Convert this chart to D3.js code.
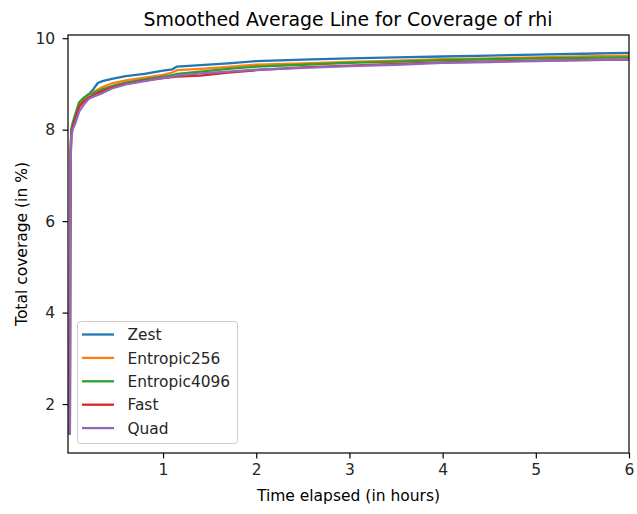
<!DOCTYPE html>
<html>
<head>
<meta charset="utf-8">
<script src="https://cdn.jsdelivr.net/npm/d3@7"></script>
<style>
  html, body { margin: 0; padding: 0; background: #fff; }
  svg { display: block; font-family: "DejaVu Sans", sans-serif; }
</style>
</head>
<body>
<svg id="chart" width="637" height="514"></svg>
<script>
const title = "Smoothed Average Line for Coverage of rhi";
const xLabel = "Time elapsed (in hours)";
const yLabel = "Total coverage (in %)";
const seriesNames = ["Zest", "Entropic256", "Entropic4096", "Fast", "Quad"];
const seriesColors = ["#1f77b4", "#ff7f0e", "#2ca02c", "#d62728", "#9467bd"];
const xTicks = [1, 2, 3, 4, 5, 6];
const yTicks = [2, 4, 6, 8, 10];

const hours = [0, 0.003, 0.008, 0.015, 0.03, 0.06, 0.1, 0.15, 0.2, 0.25, 0.3, 0.35, 0.45, 0.6, 0.8, 1.0, 1.1, 1.15, 1.4, 1.7, 2.0, 2.5, 3.0, 3.5, 4.0, 4.5, 5.0, 5.5, 6.0];
const zest     = [1.35, 5.6, 7.4, 7.95, 8.1, 8.28, 8.55, 8.68, 8.77, 8.88, 9.02, 9.06, 9.11, 9.17, 9.22, 9.29, 9.32, 9.38, 9.41, 9.45, 9.50, 9.53, 9.56, 9.58, 9.60, 9.62, 9.64, 9.66, 9.68];
const ent256   = [1.35, 5.5, 7.35, 7.95, 8.1, 8.28, 8.55, 8.68, 8.77, 8.82, 8.88, 8.93, 9.01, 9.08, 9.14, 9.20, 9.25, 9.30, 9.33, 9.37, 9.42, 9.45, 9.48, 9.51, 9.54, 9.56, 9.58, 9.60, 9.62];
const ent4096  = [1.35, 5.6, 7.45, 8.0, 8.15, 8.35, 8.6, 8.7, 8.77, 8.8, 8.84, 8.88, 8.95, 9.03, 9.10, 9.16, 9.19, 9.22, 9.27, 9.33, 9.38, 9.42, 9.46, 9.49, 9.52, 9.54, 9.56, 9.57, 9.58];
const fast     = [1.35, 5.4, 7.3, 7.9, 8.05, 8.25, 8.5, 8.62, 8.7, 8.75, 8.8, 8.84, 8.92, 9.00, 9.07, 9.13, 9.15, 9.16, 9.18, 9.25, 9.30, 9.36, 9.40, 9.44, 9.47, 9.49, 9.51, 9.52, 9.53];
const quad     = [1.35, 5.3, 7.2, 7.85, 8.0, 8.15, 8.4, 8.55, 8.67, 8.72, 8.76, 8.80, 8.90, 8.99, 9.06, 9.13, 9.16, 9.18, 9.23, 9.27, 9.31, 9.35, 9.39, 9.42, 9.46, 9.48, 9.50, 9.52, 9.53];
const seriesValues = [zest, ent256, ent4096, fast, quad];

const svg = d3.select("#chart");
const margin = {left: 68, top: 35, right: 8, bottom: 61};
const W = 637, H = 514;
const x = d3.scaleLinear().domain([-0.02, 6]).range([margin.left, W - margin.right]);
const y = d3.scaleLinear().domain([0.93, 10.07]).range([H - margin.bottom, margin.top]);

const FS = 15.5;
const TICK = 5.4;

// lines
const line = d3.line().x(d => x(d[0])).y(d => y(d[1]));
const plot = svg.append("g");
plot.append("clipPath").attr("id", "clip").append("rect")
  .attr("x", margin.left).attr("y", margin.top)
  .attr("width", W - margin.right - margin.left).attr("height", H - margin.bottom - margin.top);
const lg = plot.append("g").attr("clip-path", "url(#clip)");
seriesValues.forEach((vals, i) => {
  lg.append("path")
    .datum(hours.map((h, j) => [h, vals[j]]))
    .attr("d", line)
    .attr("fill", "none")
    .attr("stroke", seriesColors[i])
    .attr("stroke-width", 2.3)
    .attr("stroke-linejoin", "round")
    .attr("stroke-linecap", "square");
});

// axes
const xAxis = d3.axisBottom(x).tickValues(xTicks).tickSize(TICK).tickPadding(6).tickFormat(d3.format("d"));
const yAxis = d3.axisLeft(y).tickValues(yTicks).tickSize(TICK).tickPadding(7.5).tickFormat(d3.format("d"));
const gx = svg.append("g").attr("transform", `translate(0,${H - margin.bottom})`).call(xAxis);
const gy = svg.append("g").attr("transform", `translate(${margin.left},0)`).call(yAxis);
[gx, gy].forEach(g => {
  g.select(".domain").remove();
  g.selectAll(".tick line").attr("stroke", "#000").attr("stroke-width", 1.2);
  g.selectAll(".tick text").attr("fill", "#262626").style("font-size", FS + "px").style("font-family", "DejaVu Sans");
});

// spines
svg.append("rect")
  .attr("x", margin.left).attr("y", margin.top)
  .attr("width", W - margin.right - margin.left).attr("height", H - margin.bottom - margin.top)
  .attr("fill", "none").attr("stroke", "#000").attr("stroke-width", 1.2);

// title & labels
svg.append("text").attr("x", 348).attr("y", 26)
  .attr("text-anchor", "middle").style("font-size", "18.9px").attr("fill", "#000").text(title);
svg.append("text").attr("x", (margin.left + W - margin.right) / 2).attr("y", 501)
  .attr("text-anchor", "middle").style("font-size", FS + "px").attr("fill", "#000").text(xLabel);
svg.append("text").attr("transform", `translate(27,${(margin.top + H - margin.bottom) / 2}) rotate(-90)`)
  .attr("text-anchor", "middle").style("font-size", FS + "px").attr("fill", "#000").text(yLabel);

// legend
const LFS = 15.4;
const legend = svg.append("g");
legend.append("rect").attr("x", 77.5).attr("y", 321.5).attr("width", 160).attr("height", 122)
  .attr("rx", 3).attr("fill", "#fff").attr("fill-opacity", 0.8).attr("stroke", "#cccccc").attr("stroke-width", 1);
seriesNames.forEach((name, i) => {
  const yy = 334.5 + i * 23.4;
  legend.append("line").attr("x1", 82).attr("x2", 114).attr("y1", yy).attr("y2", yy)
    .attr("stroke", seriesColors[i]).attr("stroke-width", 2.3);
  legend.append("text").attr("x", 127.5).attr("y", yy + 5.6).style("font-size", LFS + "px")
    .attr("fill", "#262626").text(name);
});
</script>
</body>
</html>
